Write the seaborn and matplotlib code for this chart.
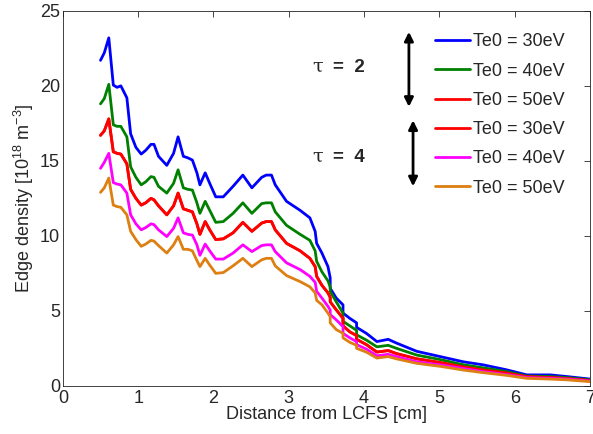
import matplotlib
matplotlib.use("Agg")
import matplotlib.pyplot as plt
import numpy as np
import pandas as pd
import seaborn as sns

# shared radial grid (repeated x = vertical step in the data)
dist = [0.50, 0.55, 0.61, 0.67, 0.72, 0.77, 0.85, 0.90, 0.97, 1.04, 1.10, 1.17, 1.21, 1.27, 1.38,
        1.47, 1.53, 1.60, 1.66, 1.72, 1.78, 1.82, 1.89, 1.95, 2.03, 2.13, 2.26, 2.39, 2.51, 2.64,
        2.70, 2.77, 2.82, 2.97, 3.15, 3.28, 3.35, 3.37, 3.44, 3.52, 3.55, 3.55, 3.63, 3.72, 3.72,
        3.81, 3.90, 3.90, 4.03, 4.17, 4.32, 4.43, 4.70, 5.01, 5.32, 5.58, 5.89, 6.16, 6.47, 6.69, 7.00]

# tau = 2
ne_t2_30 = [21.7, 22.2, 23.2, 20.05, 19.9, 20.0, 19.2, 16.8, 15.9, 15.45, 15.7, 16.1, 16.1, 15.3, 14.7,
            15.5, 16.6, 15.3, 15.2, 15.05, 14.2, 13.4, 14.2, 13.5, 12.6, 12.6, 13.3, 14.05, 13.2, 13.9,
            14.05, 14.05, 13.4, 12.3, 11.7, 11.2, 10.3, 9.5, 8.85, 7.95, 7.2, 6.5, 5.85, 5.4, 4.85,
            4.5, 4.2, 3.9, 3.5, 2.95, 3.1, 2.85, 2.3, 1.95, 1.6, 1.4, 1.07, 0.73, 0.73, 0.62, 0.45]
ne_t2_40 = [18.8, 19.15, 20.1, 17.4, 17.3, 17.3, 16.6, 14.6, 13.9, 13.4, 13.6, 13.95, 13.9, 13.3, 12.85,
            13.5, 14.4, 13.2, 13.1, 13.05, 12.2, 11.5, 12.3, 11.7, 10.9, 10.95, 11.5, 12.2, 11.5, 12.15,
            12.2, 12.2, 11.6, 10.7, 10.1, 9.7, 9.0, 8.3, 7.6, 7.0, 6.6, 6.3, 5.6, 4.85, 4.3,
            4.0, 3.7, 3.4, 3.05, 2.6, 2.7, 2.5, 2.05, 1.75, 1.4, 1.2, 0.95, 0.65, 0.62, 0.55, 0.4]
ne_t2_50 = [16.7, 17.0, 17.8, 15.6, 15.5, 15.45, 14.8, 13.1, 12.5, 12.05, 12.2, 12.5, 12.4, 12.0, 11.4,
            12.0, 12.85, 11.8, 11.7, 11.6, 10.8, 10.1, 10.95, 10.4, 9.75, 9.8, 10.2, 10.9, 10.3, 10.85,
            10.95, 10.95, 10.4, 9.5, 9.0, 8.5, 7.95, 7.3, 6.7, 6.2, 5.9, 5.6, 5.07, 4.5, 4.0,
            3.6, 3.35, 3.1, 2.75, 2.25, 2.35, 2.15, 1.8, 1.55, 1.25, 1.05, 0.85, 0.6, 0.55, 0.48, 0.35]
# tau = 4
ne_t4_30 = ne_t2_50
ne_t4_40 = [14.5, 14.9, 15.5, 13.55, 13.45, 13.4, 12.85, 11.4, 10.8, 10.4, 10.55, 10.8, 10.75, 10.4, 9.95,
            10.5, 11.2, 10.2, 10.1, 10.05, 9.4, 8.7, 9.45, 9.0, 8.45, 8.45, 8.85, 9.4, 8.95, 9.35,
            9.4, 9.4, 8.95, 8.2, 7.75, 7.3, 6.9, 6.3, 5.85, 5.3, 5.05, 4.75, 4.4, 3.95, 3.5,
            3.2, 2.95, 2.75, 2.45, 2.0, 2.1, 1.95, 1.6, 1.4, 1.15, 0.95, 0.75, 0.55, 0.5, 0.45, 0.32]
ne_t4_50 = [12.9, 13.2, 13.85, 12.05, 11.95, 11.9, 11.4, 10.3, 9.75, 9.3, 9.45, 9.7, 9.65, 9.35, 8.85,
            9.4, 9.95, 9.1, 9.1, 9.0, 8.35, 7.95, 8.5, 8.05, 7.5, 7.55, 8.0, 8.5, 7.95, 8.4,
            8.5, 8.5, 8.0, 7.35, 6.95, 6.6, 6.2, 5.7, 5.4, 4.85, 4.6, 4.2, 3.75, 3.5, 3.2,
            2.9, 2.7, 2.5, 2.25, 1.85, 1.95, 1.8, 1.5, 1.3, 1.05, 0.88, 0.7, 0.5, 0.45, 0.4, 0.28]

labels = ["Te0 = 30eV", "Te0 = 40eV", "Te0 = 50eV", "Te0 = 30eV", "Te0 = 40eV", "Te0 = 50eV"]
series = [ne_t2_30, ne_t2_40, ne_t2_50, ne_t4_30, ne_t4_40, ne_t4_50]
colors = ["#0000FF", "#008000", "#FF0000", "#FF0000", "#FF00FF", "#DE7F12"]

sns.set_style("white")
plt.rcParams["font.family"] = ["Liberation Sans", "DejaVu Sans"]
plt.rcParams["mathtext.default"] = "regular"
plt.rcParams["font.size"] = 13

fig = plt.figure(figsize=(5.93, 4.34), dpi=100)
ax = fig.add_axes([0.106, 0.111, 0.889, 0.864])

for k, (yv, lab, col) in enumerate(zip(series, labels, colors)):
    df = pd.DataFrame({"x": dist, "y": yv})
    sns.lineplot(data=df, x="x", y="y", color=col, label=lab, lw=2.0,
                 estimator=None, sort=False, ax=ax)

ax.set_xlim(0, 7)
ax.set_ylim(0, 25)
ax.set_xticks(range(0, 8))
ax.set_yticks(range(0, 26, 5))
ax.tick_params(direction="in", length=4, width=0.6, top=True, right=True, labelsize=13)
ax.tick_params(axis="x", pad=3)
ax.tick_params(axis="y", pad=2)
for s in ax.spines.values():
    s.set_linewidth(0.6)
    s.set_color("#222222")
ax.set_xlabel("Distance from LCFS [cm]", fontsize=13, labelpad=-1)
ax.set_ylabel(r"Edge density [10$^{18}$ m$^{-3}$]", fontsize=13, labelpad=3)

ax.legend(loc="upper left", bbox_to_anchor=(0.706, 0.94), frameon=False, fontsize=13,
          handlelength=1.94, handletextpad=0.17, labelspacing=0.68, borderpad=0, borderaxespad=0)

# tau annotations and double arrows
ax.text(3.31, 21.25, "\u03c4", fontsize=14, family="DejaVu Serif", va="center")
ax.text(3.59, 21.25, "=  2", fontsize=13.5, fontweight="bold", va="center")
ax.text(3.31, 15.25, "\u03c4", fontsize=14, family="DejaVu Serif", va="center")
ax.text(3.59, 15.25, "=  4", fontsize=13.5, fontweight="bold", va="center")
ax.annotate("", xy=(4.595, 18.6), xytext=(4.595, 23.6),
            arrowprops=dict(arrowstyle="<|-|>", color="k", lw=2, mutation_scale=13, shrinkA=0, shrinkB=0))
ax.annotate("", xy=(4.65, 13.3), xytext=(4.65, 17.7),
            arrowprops=dict(arrowstyle="<|-|>", color="k", lw=2, mutation_scale=13, shrinkA=0, shrinkB=0))

fig.savefig("out.png", dpi=100)
